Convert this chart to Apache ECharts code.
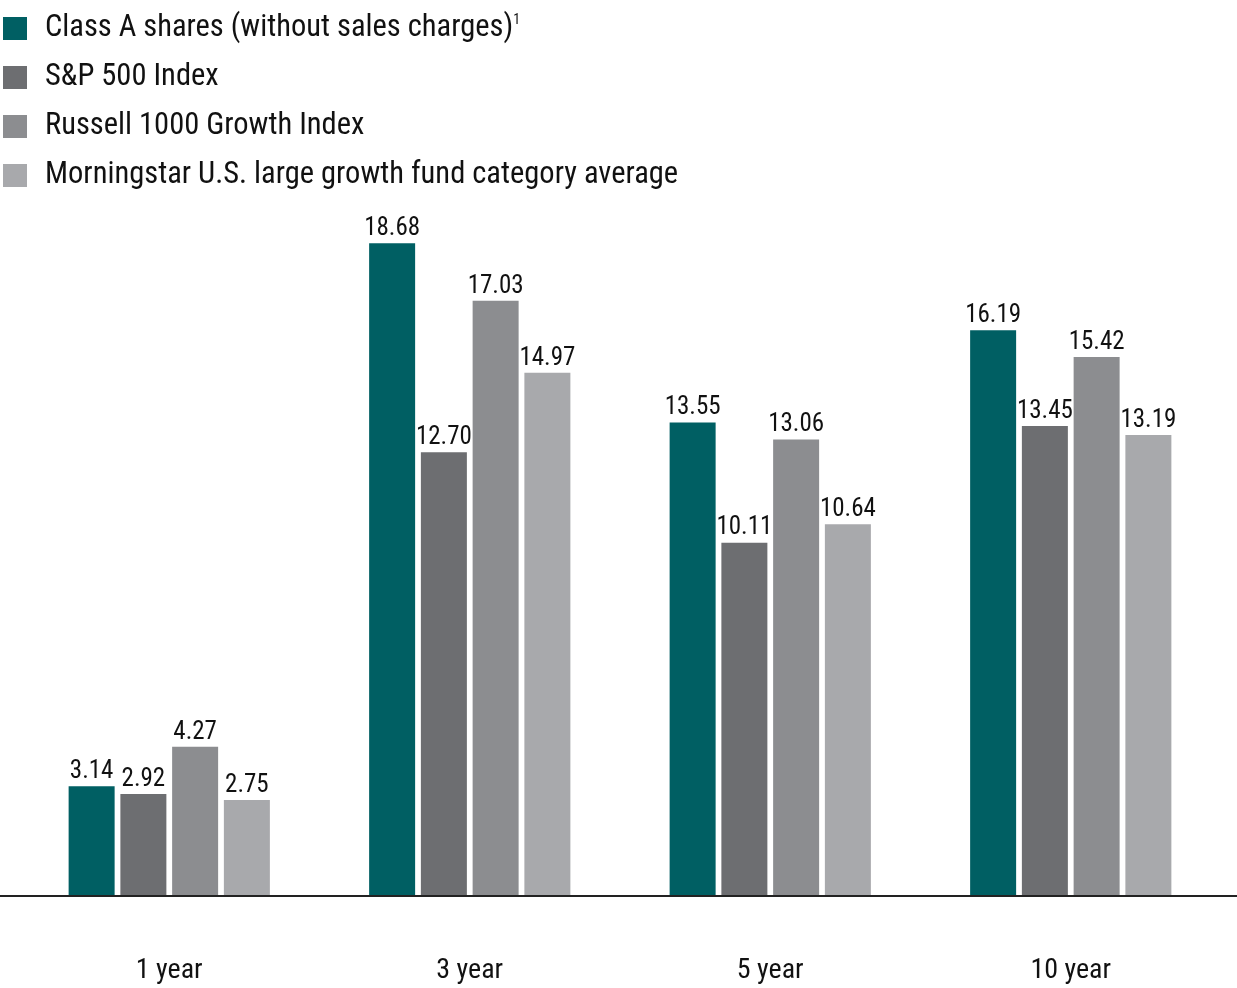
<!DOCTYPE html>
<html><head><meta charset="utf-8">
<script src="https://cdn.jsdelivr.net/npm/echarts@6/dist/echarts.min.js"></script>
<style>html,body{margin:0;padding:0;background:#fff}#c{width:1237px;height:988px}</style>
</head><body><div id="c"></div>
<script>
const categories = ['1 year', '3 year', '5 year', '10 year'];
const seriesNames = ['Class A shares (without sales charges)', 'S&P 500 Index', 'Russell 1000 Growth Index', 'Morningstar U.S. large growth fund category average'];
const classA = [3.14, 18.68, 13.55, 16.19];
const sp500 = [2.92, 12.70, 10.11, 13.45];
const russell = [4.27, 17.03, 13.06, 15.42];
const morningstar = [2.75, 14.97, 10.64, 13.19];
const colors = ['#005f63', '#6d6e71', '#8c8d90', '#a8a9ac'];
const FONT = '"Liberation Sans Narrow", "Roboto Condensed", sans-serif';

const chart = echarts.init(document.getElementById('c'));
const values = [classA, sp500, russell, morningstar];
const option = {
  animation: false,
  textStyle: { fontFamily: FONT },
  legend: {
    orient: 'vertical', left: 3, top: 13, padding: 0, itemWidth: 24, itemHeight: 23, itemGap: 18,
    icon: 'rect',
    data: seriesNames,
    formatter: n => n === seriesNames[0] ? n + '{sup|1}' : n,
    textStyle: {
      fontFamily: FONT, fontSize: 30.5, lineHeight: 30, color: '#111', padding: [0, 0, 0, 13],
      rich: { sup: { fontSize: 14, lineHeight: 30, verticalAlign: 'top', padding: [0, 0, 12, 0], color: '#111', fontFamily: FONT } }
    }
  },
  grid: { left: 19, right: 16, top: 197, bottom: 92, containLabel: false },
  xAxis: {
    type: 'category', data: categories,
    axisLine: { show: false }, axisTick: { show: false },
    axisLabel: { margin: 61, fontSize: 28, color: '#111', fontFamily: FONT }
  },
  yAxis: { type: 'value', min: 0, max: 20, show: false, splitLine: { show: false } },
  graphic: [{
    type: 'line', z: 10,
    shape: { x1: 0, y1: 896, x2: 1237, y2: 896 },
    style: { stroke: '#222', lineWidth: 2 }
  }],
  series: values.map((v, i) => ({
    name: seriesNames[i], type: 'bar', data: v,
    barWidth: 46, barGap: '12.5%',
    itemStyle: { color: colors[i] },
    label: {
      show: true, position: 'top', distance: 2, color: '#111', fontSize: 25, fontFamily: FONT,
      formatter: p => p.value.toFixed(2)
    }
  }))
};
chart.setOption(option);
</script></body></html>
